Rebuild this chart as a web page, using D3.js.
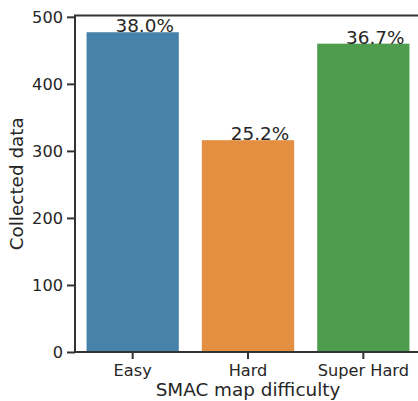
<!DOCTYPE html>
<html>
<head>
<meta charset="utf-8">
<script src="https://cdn.jsdelivr.net/npm/d3@7"></script>
<style>
  body { margin: 0; background: #fff; }
  svg text { font-family: "DejaVu Sans", sans-serif; fill: #262626; }
</style>
</head>
<body>
<svg id="chart" width="418" height="401"></svg>
<script>
const categories = ["Easy", "Hard", "Super Hard"];
const counts = [477, 316, 460];
const yTicks = [0, 100, 200, 300, 400, 500];
const barColors = ["#4682aa", "#e48e41", "#4e9d4e"];

const svg = d3.select("#chart");
const plotLeft = 75, plotRight = 421, plotTop = 15.5, plotBottom = 352;
const total = d3.sum(counts);

const x = d3.scaleBand()
    .domain(categories)
    .range([plotLeft, plotRight])
    .paddingInner(0.2)
    .paddingOuter(0.1);

const y = d3.scaleLinear()
    .domain([0, 502])
    .range([plotBottom, plotTop]);

// bars
svg.selectAll("rect.bar")
    .data(categories)
    .join("rect")
    .attr("class", "bar")
    .attr("x", d => x(d))
    .attr("y", (d, i) => y(counts[i]))
    .attr("width", x.bandwidth())
    .attr("height", (d, i) => y(0) - y(counts[i]))
    .style("fill", (d, i) => barColors[i]);

// percent labels, share of total
svg.selectAll("text.pct")
    .data(categories)
    .join("text")
    .attr("class", "pct")
    .attr("x", d => x(d) + x.bandwidth() / 2 + 12)
    .attr("y", (d, i) => y(counts[i]))
    .attr("text-anchor", "middle")
    .style("font-size", "18.4px")
    .text((d, i) => (Math.floor(counts[i] / total * 1000) / 10).toFixed(1) + "%");

// frame
svg.append("rect")
    .attr("x", plotLeft)
    .attr("y", plotTop)
    .attr("width", plotRight - plotLeft)
    .attr("height", plotBottom - plotTop)
    .style("fill", "none")
    .style("stroke", "#333")
    .style("stroke-width", 2);

// y axis
const yAxis = svg.append("g")
    .attr("transform", `translate(${plotLeft},0)`)
    .call(d3.axisLeft(y).tickValues(yTicks).tickSize(8).tickPadding(4));
yAxis.select(".domain").remove();
yAxis.selectAll(".tick line").style("stroke", "#333").style("stroke-width", 2);
yAxis.selectAll(".tick text")
    .style("font-size", "16.2px")
    .attr("dy", "0.36em")
    .style("fill", "#262626");

// x axis
const xAxis = svg.append("g")
    .attr("transform", `translate(0,${plotBottom})`)
    .call(d3.axisBottom(x).tickSize(7).tickPadding(5));
xAxis.select(".domain").remove();
xAxis.selectAll(".tick line").style("stroke", "#333").style("stroke-width", 2);
xAxis.selectAll(".tick text")
    .style("font-size", "16.2px")
    .attr("dy", "0.71em")
    .style("fill", "#262626");

// axis titles
svg.append("text")
    .attr("x", (plotLeft + plotRight) / 2)
    .attr("y", 396)
    .attr("text-anchor", "middle")
    .style("font-size", "18.4px")
    .text("SMAC map difficulty");

svg.append("text")
    .attr("transform", `translate(23,${(plotTop + plotBottom) / 2}) rotate(-90)`)
    .attr("text-anchor", "middle")
    .style("font-size", "18.4px")
    .text("Collected data");
</script>
</body>
</html>
